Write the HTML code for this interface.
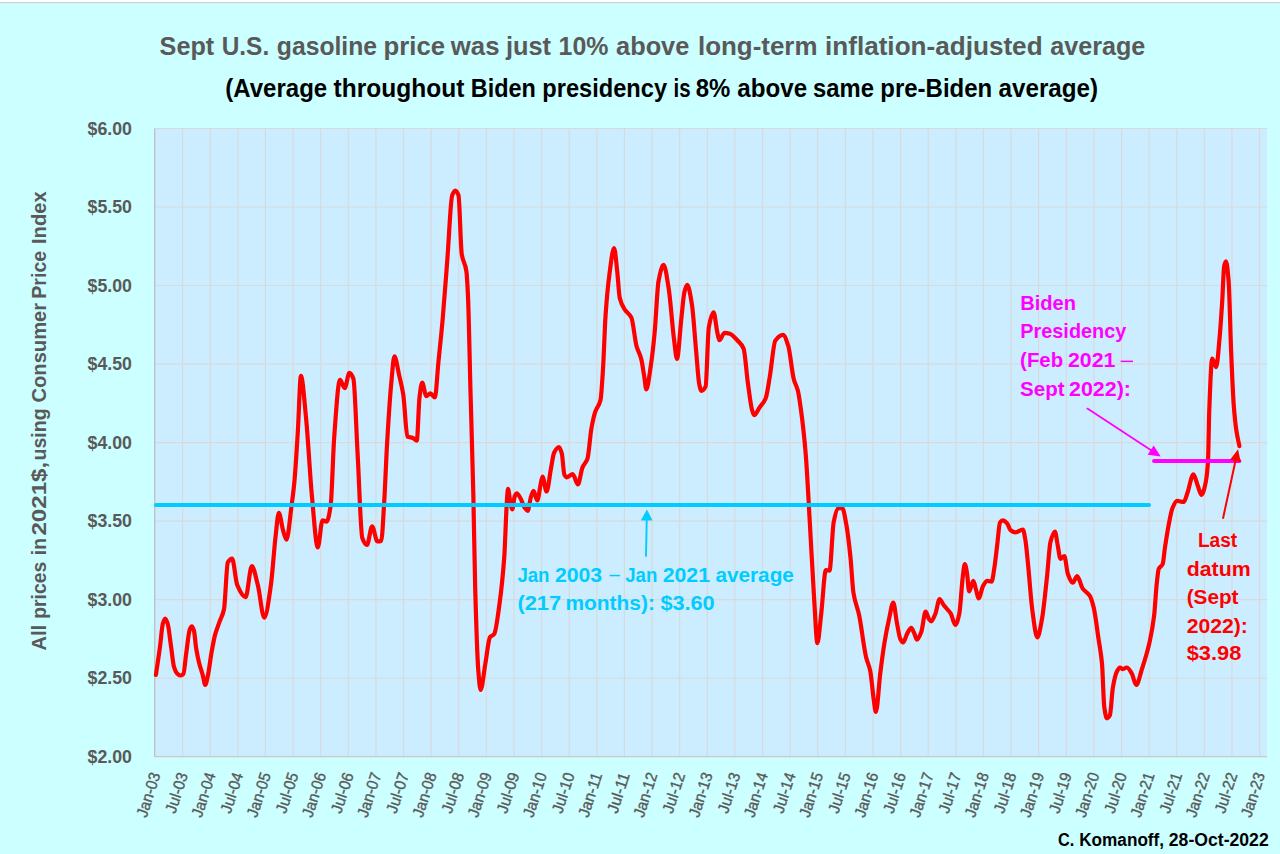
<!DOCTYPE html><html><head><meta charset="utf-8"><style>
html,body{margin:0;padding:0;width:1280px;height:854px;overflow:hidden;background:#CCFFFF;}
svg{display:block;}
text{font-family:"Liberation Sans", sans-serif;font-weight:bold;}
</style></head><body>
<svg width="1280" height="854" viewBox="0 0 1280 854">
<rect x="0" y="0" width="1280" height="854" fill="#CCFFFF"/>
<rect x="0" y="0" width="1280" height="2" fill="#FFFFFF"/>
<rect x="0" y="2" width="1280" height="1.2" fill="#CFD3D3"/>
<rect x="154.50" y="128.50" width="1112.50" height="628.20" fill="#CCECFF"/>
<path d="M182.62,128.50V756.70M210.23,128.50V756.70M237.84,128.50V756.70M265.46,128.50V756.70M293.07,128.50V756.70M320.69,128.50V756.70M348.30,128.50V756.70M375.92,128.50V756.70M403.53,128.50V756.70M431.15,128.50V756.70M458.76,128.50V756.70M486.38,128.50V756.70M514.00,128.50V756.70M541.61,128.50V756.70M569.22,128.50V756.70M596.84,128.50V756.70M624.45,128.50V756.70M652.07,128.50V756.70M679.68,128.50V756.70M707.30,128.50V756.70M734.91,128.50V756.70M762.53,128.50V756.70M790.14,128.50V756.70M817.76,128.50V756.70M845.38,128.50V756.70M872.99,128.50V756.70M900.60,128.50V756.70M928.22,128.50V756.70M955.83,128.50V756.70M983.45,128.50V756.70M1011.06,128.50V756.70M1038.68,128.50V756.70M1066.30,128.50V756.70M1093.91,128.50V756.70M1121.53,128.50V756.70M1149.14,128.50V756.70M1176.76,128.50V756.70M1204.37,128.50V756.70M1231.98,128.50V756.70M1259.60,128.50V756.70M154.50,128.50H1267.00M154.50,207.03H1267.00M154.50,285.55H1267.00M154.50,364.08H1267.00M154.50,442.60H1267.00M154.50,521.12H1267.00M154.50,599.65H1267.00M154.50,678.18H1267.00" stroke="#D9D9D9" stroke-width="1.1" fill="none"/>
<path d="M154.70,128.50V756.70" stroke="#BFBFBF" stroke-width="1.3" fill="none"/>
<path d="M154.50,756.70H1267.00" stroke="#C8C8C8" stroke-width="1.3" fill="none"/>
<path d="M155.90,675.00 C157.27,665.60 158.63,657.00 160.00,646.80 C160.97,639.59 161.93,626.48 162.90,623.40 C163.67,620.96 164.43,618.70 165.20,618.70 C166.00,618.70 166.80,621.06 167.60,623.40 C168.77,626.82 169.93,638.88 171.10,646.80 C172.07,653.37 173.03,663.75 174.00,666.80 C175.17,670.48 176.33,672.83 177.50,673.80 C178.57,674.69 179.63,675.50 180.70,675.50 C181.60,675.50 182.50,674.83 183.40,673.80 C184.37,672.69 185.33,659.44 186.30,652.70 C187.47,644.56 188.63,631.83 189.80,629.30 C190.50,627.78 191.20,626.40 191.90,626.40 C192.57,626.40 193.23,628.37 193.90,630.50 C194.70,633.05 195.50,644.40 196.30,649.20 C197.27,655.01 198.23,659.34 199.20,663.20 C200.37,667.86 201.53,670.82 202.70,675.00 C203.57,678.11 204.43,684.90 205.30,684.90 C206.20,684.90 207.10,679.14 208.00,675.00 C209.17,669.63 210.33,659.26 211.50,652.70 C212.67,646.14 213.83,639.48 215.00,635.10 C216.43,629.72 217.87,626.51 219.30,622.40 C220.87,617.90 222.43,616.59 224.00,609.30 C225.27,603.41 226.53,564.47 227.80,562.40 C229.23,560.05 230.67,558.70 232.10,558.70 C233.80,558.70 235.50,580.87 237.20,584.90 C240.00,591.54 242.80,597.10 245.60,597.10 C247.67,597.10 249.73,566.20 251.80,566.20 C253.80,566.20 255.80,577.22 257.80,584.90 C259.97,593.22 262.13,617.70 264.30,617.70 C266.50,617.70 268.70,599.98 270.90,584.90 C272.47,574.16 274.03,549.49 275.60,536.20 C276.67,527.15 277.73,512.80 278.80,512.80 C280.23,512.80 281.67,526.01 283.10,530.60 C284.23,534.23 285.37,539.60 286.50,539.60 C288.17,539.60 289.83,518.74 291.50,506.20 C292.47,498.93 293.43,492.06 294.40,481.80 C295.57,469.42 296.73,449.30 297.90,430.30 C298.90,414.01 299.90,375.90 300.90,375.90 C302.63,375.90 304.37,400.99 306.10,418.50 C308.03,438.03 309.97,475.37 311.90,495.80 C313.87,516.58 315.83,547.40 317.80,547.40 C319.37,547.40 320.93,520.40 322.50,520.40 C323.90,520.40 325.30,521.60 326.70,521.60 C328.03,521.60 329.37,514.36 330.70,505.20 C331.87,497.19 333.03,453.01 334.20,437.30 C336.13,411.26 338.07,379.90 340.00,379.90 C341.57,379.90 343.13,388.10 344.70,388.10 C346.27,388.10 347.83,372.90 349.40,372.90 C350.73,372.90 352.07,375.15 353.40,378.70 C354.80,382.43 356.20,428.65 357.60,453.70 C359.17,481.74 360.73,533.69 362.30,538.00 C363.87,542.31 365.43,545.00 367.00,545.00 C368.70,545.00 370.40,526.30 372.10,526.30 C373.90,526.30 375.70,541.50 377.50,541.50 C378.73,541.50 379.97,541.34 381.20,541.00 C382.20,540.72 383.20,517.85 384.20,502.00 C385.17,486.68 386.13,459.77 387.10,443.30 C388.47,420.02 389.83,398.62 391.20,384.00 C392.27,372.59 393.33,356.40 394.40,356.40 C396.03,356.40 397.67,368.84 399.30,375.90 C400.63,381.66 401.97,386.13 403.30,394.70 C404.67,403.49 406.03,435.93 407.40,436.60 C409.20,437.49 411.00,437.25 412.80,437.90 C414.13,438.38 415.47,440.60 416.80,440.60 C417.70,440.60 418.60,404.75 419.50,397.40 C420.40,390.05 421.30,382.60 422.20,382.60 C423.57,382.60 424.93,396.10 426.30,396.10 C427.63,396.10 428.97,393.40 430.30,393.40 C431.83,393.40 433.37,397.40 434.90,397.40 C436.07,397.40 437.23,374.13 438.40,362.40 C439.83,347.99 441.27,335.07 442.70,318.90 C444.27,301.22 445.83,279.07 447.40,258.70 C449.00,237.89 450.60,199.42 452.20,195.30 C453.23,192.64 454.27,190.60 455.30,190.60 C456.37,190.60 457.43,192.40 458.50,195.30 C459.57,198.20 460.63,247.01 461.70,253.90 C463.27,264.02 464.83,260.89 466.40,271.40 C466.93,274.98 467.47,285.14 468.00,296.70 C468.83,314.77 469.67,360.77 470.50,391.70 C471.43,426.35 472.37,453.59 473.30,493.20 C473.93,520.08 474.57,565.61 475.20,588.10 C476.23,624.80 477.27,657.30 478.30,670.30 C479.07,679.94 479.83,689.90 480.60,689.90 C482.17,689.90 483.73,672.80 485.30,664.00 C486.87,655.20 488.43,639.12 490.00,637.10 C491.40,635.30 492.80,635.78 494.20,634.00 C495.97,631.76 497.73,616.70 499.50,603.90 C501.10,592.31 502.70,579.04 504.30,556.50 C505.13,544.76 505.97,514.76 506.80,502.70 C507.20,496.91 507.60,488.90 508.00,488.90 C508.77,488.90 509.53,498.92 510.30,502.40 C510.93,505.27 511.57,509.50 512.20,509.50 C513.07,509.50 513.93,497.82 514.80,496.00 C515.43,494.67 516.07,493.40 516.70,493.40 C518.00,493.40 519.30,496.33 520.60,498.50 C521.90,500.67 523.20,505.67 524.50,507.50 C525.57,509.00 526.63,510.80 527.70,510.80 C528.77,510.80 529.83,500.50 530.90,497.20 C531.77,494.52 532.63,490.80 533.50,490.80 C534.77,490.80 536.03,500.50 537.30,500.50 C538.40,500.50 539.50,489.27 540.60,484.40 C541.23,481.60 541.87,476.60 542.50,476.60 C543.87,476.60 545.23,491.50 546.60,491.50 C548.03,491.50 549.47,476.26 550.90,468.90 C551.97,463.42 553.03,454.94 554.10,452.80 C555.73,449.53 557.37,447.00 559.00,447.00 C559.93,447.00 560.87,450.10 561.80,453.50 C562.67,456.65 563.53,473.11 564.40,474.70 C565.23,476.23 566.07,477.30 566.90,477.30 C568.83,477.30 570.77,474.10 572.70,474.10 C574.43,474.10 576.17,484.40 577.90,484.40 C579.40,484.40 580.90,471.22 582.40,467.60 C584.10,463.50 585.80,463.62 587.50,458.60 C588.80,454.76 590.10,435.69 591.40,428.50 C592.70,421.31 594.00,415.58 595.30,411.70 C597.03,406.53 598.77,407.23 600.50,400.10 C601.33,396.67 602.17,382.11 603.00,369.20 C603.87,355.77 604.73,327.42 605.60,315.00 C606.90,296.36 608.20,283.41 609.50,273.80 C611.03,262.47 612.57,248.00 614.10,248.00 C615.13,248.00 616.17,262.15 617.20,271.20 C618.07,278.79 618.93,294.87 619.80,298.30 C621.53,305.16 623.27,307.16 625.00,309.90 C627.13,313.27 629.27,313.27 631.40,317.60 C633.10,321.05 634.80,339.78 636.50,346.00 C638.07,351.73 639.63,352.91 641.20,358.90 C642.23,362.85 643.27,370.69 644.30,376.90 C644.97,380.91 645.63,389.30 646.30,389.30 C647.77,389.30 649.23,376.10 650.70,366.60 C652.00,358.18 653.30,346.64 654.60,333.10 C655.90,319.56 657.20,288.51 658.50,281.50 C660.20,272.33 661.90,264.80 663.60,264.80 C665.33,264.80 667.07,278.34 668.80,289.30 C670.50,300.05 672.20,325.01 673.90,338.20 C674.93,346.22 675.97,358.90 677.00,358.90 C678.43,358.90 679.87,331.85 681.30,319.10 C682.37,309.61 683.43,295.64 684.50,291.60 C685.40,288.19 686.30,284.90 687.20,284.90 C688.77,284.90 690.33,294.80 691.90,304.30 C693.30,312.79 694.70,335.60 696.10,350.70 C697.17,362.21 698.23,379.70 699.30,384.50 C700.00,387.65 700.70,390.80 701.40,390.80 C702.80,390.80 704.20,389.37 705.60,386.60 C706.67,384.49 707.73,333.55 708.80,327.50 C710.40,318.42 712.00,312.30 713.60,312.30 C714.80,312.30 716.00,326.22 717.20,331.70 C717.90,334.90 718.60,340.20 719.30,340.20 C721.07,340.20 722.83,332.80 724.60,332.80 C726.37,332.80 728.13,333.27 729.90,333.80 C732.33,334.53 734.77,337.63 737.20,340.20 C739.33,342.45 741.47,343.53 743.60,348.60 C745.00,351.93 746.40,372.31 747.80,382.40 C749.20,392.49 750.60,404.94 752.00,409.80 C752.70,412.23 753.40,415.10 754.10,415.10 C755.87,415.10 757.63,410.26 759.40,407.70 C761.50,404.66 763.60,403.32 765.70,398.20 C767.10,394.79 768.50,384.16 769.90,376.00 C771.70,365.51 773.50,343.11 775.30,340.60 C777.87,337.02 780.43,334.90 783.00,334.90 C784.73,334.90 786.47,340.39 788.20,345.70 C790.07,351.42 791.93,372.16 793.80,379.20 C795.17,384.36 796.53,385.39 797.90,390.80 C798.93,394.89 799.97,402.50 801.00,410.10 C802.57,421.63 804.13,434.97 805.70,453.80 C807.07,470.23 808.43,498.76 809.80,522.20 C811.23,546.78 812.67,576.17 814.10,598.10 C815.20,614.93 816.30,643.10 817.40,643.10 C818.63,643.10 819.87,625.30 821.10,615.00 C822.70,601.63 824.30,570.00 825.90,570.00 C827.10,570.00 828.30,570.60 829.50,570.60 C830.90,570.60 832.30,529.20 833.70,522.20 C835.13,515.03 836.57,508.83 838.00,508.50 C839.40,508.18 840.80,508.00 842.20,508.00 C843.60,508.00 845.00,517.47 846.40,525.00 C847.80,532.53 849.20,545.02 850.60,558.70 C851.53,567.82 852.47,586.61 853.40,592.50 C855.30,604.50 857.20,606.00 859.10,615.00 C861.43,626.05 863.77,647.42 866.10,657.20 C867.50,663.07 868.90,664.45 870.30,671.20 C871.43,676.67 872.57,691.69 873.70,699.30 C874.43,704.22 875.17,712.00 875.90,712.00 C877.37,712.00 878.83,684.66 880.30,673.00 C881.73,661.61 883.17,650.63 884.60,642.00 C886.07,633.17 887.53,625.82 889.00,619.30 C890.43,612.93 891.87,602.50 893.30,602.50 C894.47,602.50 895.63,616.05 896.80,622.10 C897.97,628.15 899.13,636.73 900.30,639.00 C901.23,640.81 902.17,642.50 903.10,642.50 C904.50,642.50 905.90,635.81 907.30,633.40 C908.60,631.16 909.90,627.80 911.20,627.80 C912.23,627.80 913.27,631.25 914.30,633.40 C915.17,635.20 916.03,639.70 916.90,639.70 C918.37,639.70 919.83,635.76 921.30,632.00 C922.73,628.33 924.17,611.60 925.60,611.60 C926.77,611.60 927.93,617.74 929.10,619.30 C929.80,620.23 930.50,621.40 931.20,621.40 C932.60,621.40 934.00,617.07 935.40,613.70 C936.80,610.33 938.20,599.00 939.60,599.00 C941.00,599.00 942.40,603.42 943.80,605.30 C946.13,608.44 948.47,609.82 950.80,613.70 C952.30,616.19 953.80,624.90 955.30,624.90 C956.63,624.90 957.97,619.71 959.30,613.70 C960.43,608.59 961.57,586.28 962.70,577.40 C963.40,571.92 964.10,564.00 964.80,564.00 C965.53,564.00 966.27,568.97 967.00,573.10 C967.70,577.04 968.40,591.40 969.10,591.40 C970.50,591.40 971.90,580.90 973.30,580.90 C974.23,580.90 975.17,586.90 976.10,590.00 C976.93,592.77 977.77,598.50 978.60,598.50 C980.10,598.50 981.60,588.26 983.10,585.80 C984.50,583.50 985.90,580.90 987.30,580.90 C988.73,580.90 990.17,581.60 991.60,581.60 C992.53,581.60 993.47,573.28 994.40,567.50 C995.33,561.72 996.27,552.50 997.20,545.00 C998.13,537.50 999.07,523.78 1000.00,522.50 C1000.93,521.22 1001.87,520.40 1002.80,520.40 C1004.20,520.40 1005.60,521.79 1007.00,523.20 C1008.20,524.41 1009.40,529.33 1010.60,530.20 C1012.23,531.39 1013.87,532.30 1015.50,532.30 C1017.93,532.30 1020.37,529.50 1022.80,529.50 C1023.63,529.50 1024.47,534.83 1025.30,539.40 C1026.23,544.52 1027.17,555.83 1028.10,565.00 C1029.47,578.43 1030.83,598.86 1032.20,609.00 C1033.90,621.61 1035.60,637.40 1037.30,637.40 C1038.83,637.40 1040.37,627.60 1041.90,619.50 C1043.57,610.69 1045.23,592.93 1046.90,577.70 C1048.10,566.73 1049.30,546.45 1050.50,541.80 C1051.97,536.12 1053.43,531.50 1054.90,531.50 C1055.87,531.50 1056.83,541.00 1057.80,545.80 C1058.67,550.10 1059.53,558.80 1060.40,558.80 C1061.73,558.80 1063.07,556.20 1064.40,556.20 C1065.53,556.20 1066.67,570.61 1067.80,573.70 C1069.47,578.25 1071.13,582.60 1072.80,582.60 C1074.23,582.60 1075.67,576.10 1077.10,576.10 C1078.97,576.10 1080.83,585.98 1082.70,588.60 C1085.03,591.87 1087.37,591.94 1089.70,595.60 C1091.03,597.69 1092.37,602.12 1093.70,607.50 C1095.33,614.09 1096.97,628.29 1098.60,639.40 C1099.73,647.11 1100.87,651.43 1102.00,663.50 C1102.77,671.67 1103.53,702.06 1104.30,707.40 C1105.17,713.44 1106.03,718.30 1106.90,718.30 C1107.90,718.30 1108.90,717.11 1109.90,715.30 C1110.90,713.49 1111.90,693.08 1112.90,687.40 C1114.23,679.83 1115.57,674.10 1116.90,671.50 C1117.90,669.55 1118.90,667.50 1119.90,667.50 C1120.90,667.50 1121.90,669.10 1122.90,669.10 C1124.20,669.10 1125.50,667.50 1126.80,667.50 C1128.47,667.50 1130.13,670.74 1131.80,673.50 C1133.27,675.93 1134.73,685.00 1136.20,685.00 C1138.07,685.00 1139.93,675.25 1141.80,669.50 C1144.43,661.38 1147.07,653.49 1149.70,641.60 C1151.17,634.98 1152.63,627.80 1154.10,615.80 C1154.97,608.71 1155.83,591.85 1156.70,583.90 C1157.37,577.78 1158.03,570.55 1158.70,569.00 C1160.03,565.90 1161.37,567.04 1162.70,564.00 C1163.47,562.25 1164.23,552.41 1165.00,547.30 C1166.23,539.08 1167.47,531.12 1168.70,524.80 C1169.97,518.31 1171.23,510.94 1172.50,508.00 C1174.03,504.44 1175.57,500.90 1177.10,500.90 C1179.30,500.90 1181.50,502.00 1183.70,502.00 C1184.93,502.00 1186.17,496.34 1187.40,493.00 C1189.40,487.59 1191.40,474.30 1193.40,474.30 C1194.83,474.30 1196.27,481.86 1197.70,485.50 C1198.97,488.71 1200.23,494.90 1201.50,494.90 C1202.93,494.90 1204.37,488.77 1205.80,481.80 C1206.53,478.23 1207.27,472.94 1208.00,461.20 C1208.43,454.26 1208.87,420.61 1209.30,409.50 C1210.27,384.71 1211.23,358.50 1212.20,358.50 C1212.70,358.50 1213.20,360.19 1213.70,361.20 C1214.53,362.88 1215.37,367.10 1216.20,367.10 C1217.33,367.10 1218.47,349.74 1219.60,337.50 C1220.47,328.14 1221.33,315.06 1222.20,301.50 C1222.87,291.07 1223.53,269.00 1224.20,266.00 C1224.80,263.30 1225.40,261.30 1226.00,261.30 C1226.87,261.30 1227.73,270.63 1228.60,280.90 C1229.47,291.17 1230.33,332.44 1231.20,352.90 C1232.03,372.57 1232.87,393.24 1233.70,404.40 C1234.57,416.00 1235.43,424.17 1236.30,430.10 C1237.33,437.17 1238.37,440.77 1239.40,446.10" stroke="#FF0000" stroke-width="4.2" stroke-linejoin="round" stroke-linecap="round" fill="none"/>
<path d="M156,505H1149" stroke="#00CCFF" stroke-width="4" stroke-linecap="round" fill="none"/>
<path d="M1154,461H1239.5" stroke="#FF00FF" stroke-width="3.9" stroke-linecap="round" fill="none"/>
<path d="M646.00,555.90L646.70,520.00" stroke="#00CCFF" stroke-width="1.90" stroke-linecap="round" fill="none"/><path d="M646.90,509.50L652.59,520.61L640.79,520.38Z" fill="#00CCFF"/>
<path d="M1087.40,408.60L1151.08,450.30" stroke="#FF00FF" stroke-width="1.80" stroke-linecap="round" fill="none"/><path d="M1160.70,456.60L1147.65,454.63L1153.67,445.42Z" fill="#FF00FF"/>
<path d="M1223.10,518.00L1235.56,460.54" stroke="#FF0000" stroke-width="2.00" stroke-linecap="round" fill="none"/><path d="M1238.00,449.30L1240.83,462.19L1230.08,459.86Z" fill="#FF0000"/>
<text x="159.60" y="54.50" font-size="25.50" fill="#595959" text-anchor="start" textLength="54.6" lengthAdjust="spacingAndGlyphs">Sept</text>
<text x="221.70" y="54.50" font-size="25.50" fill="#595959" text-anchor="start" textLength="47.5" lengthAdjust="spacingAndGlyphs">U.S.</text>
<text x="276.80" y="54.50" font-size="25.50" fill="#595959" text-anchor="start" textLength="100.3" lengthAdjust="spacingAndGlyphs">gasoline</text>
<text x="383.50" y="54.50" font-size="25.50" fill="#595959" text-anchor="start" textLength="61.5" lengthAdjust="spacingAndGlyphs">price</text>
<text x="450.80" y="54.50" font-size="25.50" fill="#595959" text-anchor="start" textLength="48.7" lengthAdjust="spacingAndGlyphs">was</text>
<text x="505.90" y="54.50" font-size="25.50" fill="#595959" text-anchor="start" textLength="45.1" lengthAdjust="spacingAndGlyphs">just</text>
<text x="558.60" y="54.50" font-size="25.50" fill="#595959" text-anchor="start" textLength="49.9" lengthAdjust="spacingAndGlyphs">10%</text>
<text x="616.10" y="54.50" font-size="25.50" fill="#595959" text-anchor="start" textLength="73.2" lengthAdjust="spacingAndGlyphs">above</text>
<text x="698.00" y="54.50" font-size="25.50" fill="#595959" text-anchor="start" textLength="119.5" lengthAdjust="spacingAndGlyphs">long-term</text>
<text x="825.00" y="54.50" font-size="25.50" fill="#595959" text-anchor="start" textLength="217.6" lengthAdjust="spacingAndGlyphs">inflation-adjusted</text>
<text x="1050.20" y="54.50" font-size="25.50" fill="#595959" text-anchor="start" textLength="95.1" lengthAdjust="spacingAndGlyphs">average</text>
<text x="225.30" y="97.30" font-size="25.00" fill="#000000" text-anchor="start" textLength="101.9" lengthAdjust="spacingAndGlyphs">(Average</text>
<text x="333.60" y="97.30" font-size="25.00" fill="#000000" text-anchor="start" textLength="130.7" lengthAdjust="spacingAndGlyphs">throughout</text>
<text x="470.80" y="97.30" font-size="25.00" fill="#000000" text-anchor="start" textLength="65.1" lengthAdjust="spacingAndGlyphs">Biden</text>
<text x="542.30" y="97.30" font-size="25.00" fill="#000000" text-anchor="start" textLength="124.8" lengthAdjust="spacingAndGlyphs">presidency</text>
<text x="673.50" y="97.30" font-size="25.00" fill="#000000" text-anchor="start" textLength="17.1" lengthAdjust="spacingAndGlyphs">is</text>
<text x="695.80" y="97.30" font-size="25.00" fill="#000000" text-anchor="start" textLength="34.6" lengthAdjust="spacingAndGlyphs">8%</text>
<text x="737.30" y="97.30" font-size="25.00" fill="#000000" text-anchor="start" textLength="69.8" lengthAdjust="spacingAndGlyphs">above</text>
<text x="813.00" y="97.30" font-size="25.00" fill="#000000" text-anchor="start" textLength="60.9" lengthAdjust="spacingAndGlyphs">same</text>
<text x="880.30" y="97.30" font-size="25.00" fill="#000000" text-anchor="start" textLength="111.9" lengthAdjust="spacingAndGlyphs">pre-Biden</text>
<text x="998.60" y="97.30" font-size="25.00" fill="#000000" text-anchor="start" textLength="99.5" lengthAdjust="spacingAndGlyphs">average)</text>
<text x="87.60" y="134.60" font-size="17.50" fill="#595959" text-anchor="start" textLength="44.4" lengthAdjust="spacingAndGlyphs">$6.00</text>
<text x="87.60" y="213.12" font-size="17.50" fill="#595959" text-anchor="start" textLength="44.4" lengthAdjust="spacingAndGlyphs">$5.50</text>
<text x="87.60" y="291.65" font-size="17.50" fill="#595959" text-anchor="start" textLength="44.4" lengthAdjust="spacingAndGlyphs">$5.00</text>
<text x="87.60" y="370.18" font-size="17.50" fill="#595959" text-anchor="start" textLength="44.4" lengthAdjust="spacingAndGlyphs">$4.50</text>
<text x="87.60" y="448.70" font-size="17.50" fill="#595959" text-anchor="start" textLength="44.4" lengthAdjust="spacingAndGlyphs">$4.00</text>
<text x="87.60" y="527.23" font-size="17.50" fill="#595959" text-anchor="start" textLength="44.4" lengthAdjust="spacingAndGlyphs">$3.50</text>
<text x="87.60" y="605.75" font-size="17.50" fill="#595959" text-anchor="start" textLength="44.4" lengthAdjust="spacingAndGlyphs">$3.00</text>
<text x="87.60" y="684.28" font-size="17.50" fill="#595959" text-anchor="start" textLength="44.4" lengthAdjust="spacingAndGlyphs">$2.50</text>
<text x="87.60" y="762.80" font-size="17.50" fill="#595959" text-anchor="start" textLength="44.4" lengthAdjust="spacingAndGlyphs">$2.00</text>
<text transform="translate(46.3,650.40) rotate(-90)" x="0" y="0" font-size="21" fill="#595959" textLength="25.50" lengthAdjust="spacingAndGlyphs">All</text>
<text transform="translate(46.3,618.80) rotate(-90)" x="0" y="0" font-size="21" fill="#595959" textLength="57.10" lengthAdjust="spacingAndGlyphs">prices</text>
<text transform="translate(46.3,555.20) rotate(-90)" x="0" y="0" font-size="21" fill="#595959" textLength="17.10" lengthAdjust="spacingAndGlyphs">in</text>
<text transform="translate(46.3,535.60) rotate(-90)" x="0" y="0" font-size="21" fill="#595959" textLength="73.80" lengthAdjust="spacingAndGlyphs">2021$,</text>
<text transform="translate(46.3,460.50) rotate(-90)" x="0" y="0" font-size="21" fill="#595959" textLength="52.20" lengthAdjust="spacingAndGlyphs">using</text>
<text transform="translate(46.3,402.50) rotate(-90)" x="0" y="0" font-size="21" fill="#595959" textLength="99.60" lengthAdjust="spacingAndGlyphs">Consumer</text>
<text transform="translate(46.3,298.80) rotate(-90)" x="0" y="0" font-size="21" fill="#595959" textLength="48.10" lengthAdjust="spacingAndGlyphs">Price</text>
<text transform="translate(46.3,244.00) rotate(-90)" x="0" y="0" font-size="21" fill="#595959" textLength="52.60" lengthAdjust="spacingAndGlyphs">Index</text>
<text transform="translate(160.60,774.60) rotate(-72.0)" x="0" y="0" font-size="16" style="font-weight:normal" fill="#595959" stroke="#595959" stroke-width="0.35" text-anchor="end" textLength="46.0" lengthAdjust="spacingAndGlyphs">Jan-03</text>
<text transform="translate(188.22,774.60) rotate(-72.0)" x="0" y="0" font-size="16" style="font-weight:normal" fill="#595959" stroke="#595959" stroke-width="0.35" text-anchor="end" textLength="41.6" lengthAdjust="spacingAndGlyphs">Jul-03</text>
<text transform="translate(215.83,774.60) rotate(-72.0)" x="0" y="0" font-size="16" style="font-weight:normal" fill="#595959" stroke="#595959" stroke-width="0.35" text-anchor="end" textLength="46.0" lengthAdjust="spacingAndGlyphs">Jan-04</text>
<text transform="translate(243.44,774.60) rotate(-72.0)" x="0" y="0" font-size="16" style="font-weight:normal" fill="#595959" stroke="#595959" stroke-width="0.35" text-anchor="end" textLength="41.6" lengthAdjust="spacingAndGlyphs">Jul-04</text>
<text transform="translate(271.06,774.60) rotate(-72.0)" x="0" y="0" font-size="16" style="font-weight:normal" fill="#595959" stroke="#595959" stroke-width="0.35" text-anchor="end" textLength="46.0" lengthAdjust="spacingAndGlyphs">Jan-05</text>
<text transform="translate(298.68,774.60) rotate(-72.0)" x="0" y="0" font-size="16" style="font-weight:normal" fill="#595959" stroke="#595959" stroke-width="0.35" text-anchor="end" textLength="41.6" lengthAdjust="spacingAndGlyphs">Jul-05</text>
<text transform="translate(326.29,774.60) rotate(-72.0)" x="0" y="0" font-size="16" style="font-weight:normal" fill="#595959" stroke="#595959" stroke-width="0.35" text-anchor="end" textLength="46.0" lengthAdjust="spacingAndGlyphs">Jan-06</text>
<text transform="translate(353.90,774.60) rotate(-72.0)" x="0" y="0" font-size="16" style="font-weight:normal" fill="#595959" stroke="#595959" stroke-width="0.35" text-anchor="end" textLength="41.6" lengthAdjust="spacingAndGlyphs">Jul-06</text>
<text transform="translate(381.52,774.60) rotate(-72.0)" x="0" y="0" font-size="16" style="font-weight:normal" fill="#595959" stroke="#595959" stroke-width="0.35" text-anchor="end" textLength="46.0" lengthAdjust="spacingAndGlyphs">Jan-07</text>
<text transform="translate(409.13,774.60) rotate(-72.0)" x="0" y="0" font-size="16" style="font-weight:normal" fill="#595959" stroke="#595959" stroke-width="0.35" text-anchor="end" textLength="41.6" lengthAdjust="spacingAndGlyphs">Jul-07</text>
<text transform="translate(436.75,774.60) rotate(-72.0)" x="0" y="0" font-size="16" style="font-weight:normal" fill="#595959" stroke="#595959" stroke-width="0.35" text-anchor="end" textLength="46.0" lengthAdjust="spacingAndGlyphs">Jan-08</text>
<text transform="translate(464.37,774.60) rotate(-72.0)" x="0" y="0" font-size="16" style="font-weight:normal" fill="#595959" stroke="#595959" stroke-width="0.35" text-anchor="end" textLength="41.6" lengthAdjust="spacingAndGlyphs">Jul-08</text>
<text transform="translate(491.98,774.60) rotate(-72.0)" x="0" y="0" font-size="16" style="font-weight:normal" fill="#595959" stroke="#595959" stroke-width="0.35" text-anchor="end" textLength="46.0" lengthAdjust="spacingAndGlyphs">Jan-09</text>
<text transform="translate(519.60,774.60) rotate(-72.0)" x="0" y="0" font-size="16" style="font-weight:normal" fill="#595959" stroke="#595959" stroke-width="0.35" text-anchor="end" textLength="41.6" lengthAdjust="spacingAndGlyphs">Jul-09</text>
<text transform="translate(547.21,774.60) rotate(-72.0)" x="0" y="0" font-size="16" style="font-weight:normal" fill="#595959" stroke="#595959" stroke-width="0.35" text-anchor="end" textLength="46.0" lengthAdjust="spacingAndGlyphs">Jan-10</text>
<text transform="translate(574.82,774.60) rotate(-72.0)" x="0" y="0" font-size="16" style="font-weight:normal" fill="#595959" stroke="#595959" stroke-width="0.35" text-anchor="end" textLength="41.6" lengthAdjust="spacingAndGlyphs">Jul-10</text>
<text transform="translate(602.44,774.60) rotate(-72.0)" x="0" y="0" font-size="16" style="font-weight:normal" fill="#595959" stroke="#595959" stroke-width="0.35" text-anchor="end" textLength="46.0" lengthAdjust="spacingAndGlyphs">Jan-11</text>
<text transform="translate(630.05,774.60) rotate(-72.0)" x="0" y="0" font-size="16" style="font-weight:normal" fill="#595959" stroke="#595959" stroke-width="0.35" text-anchor="end" textLength="41.6" lengthAdjust="spacingAndGlyphs">Jul-11</text>
<text transform="translate(657.67,774.60) rotate(-72.0)" x="0" y="0" font-size="16" style="font-weight:normal" fill="#595959" stroke="#595959" stroke-width="0.35" text-anchor="end" textLength="46.0" lengthAdjust="spacingAndGlyphs">Jan-12</text>
<text transform="translate(685.28,774.60) rotate(-72.0)" x="0" y="0" font-size="16" style="font-weight:normal" fill="#595959" stroke="#595959" stroke-width="0.35" text-anchor="end" textLength="41.6" lengthAdjust="spacingAndGlyphs">Jul-12</text>
<text transform="translate(712.90,774.60) rotate(-72.0)" x="0" y="0" font-size="16" style="font-weight:normal" fill="#595959" stroke="#595959" stroke-width="0.35" text-anchor="end" textLength="46.0" lengthAdjust="spacingAndGlyphs">Jan-13</text>
<text transform="translate(740.51,774.60) rotate(-72.0)" x="0" y="0" font-size="16" style="font-weight:normal" fill="#595959" stroke="#595959" stroke-width="0.35" text-anchor="end" textLength="41.6" lengthAdjust="spacingAndGlyphs">Jul-13</text>
<text transform="translate(768.13,774.60) rotate(-72.0)" x="0" y="0" font-size="16" style="font-weight:normal" fill="#595959" stroke="#595959" stroke-width="0.35" text-anchor="end" textLength="46.0" lengthAdjust="spacingAndGlyphs">Jan-14</text>
<text transform="translate(795.75,774.60) rotate(-72.0)" x="0" y="0" font-size="16" style="font-weight:normal" fill="#595959" stroke="#595959" stroke-width="0.35" text-anchor="end" textLength="41.6" lengthAdjust="spacingAndGlyphs">Jul-14</text>
<text transform="translate(823.36,774.60) rotate(-72.0)" x="0" y="0" font-size="16" style="font-weight:normal" fill="#595959" stroke="#595959" stroke-width="0.35" text-anchor="end" textLength="46.0" lengthAdjust="spacingAndGlyphs">Jan-15</text>
<text transform="translate(850.98,774.60) rotate(-72.0)" x="0" y="0" font-size="16" style="font-weight:normal" fill="#595959" stroke="#595959" stroke-width="0.35" text-anchor="end" textLength="41.6" lengthAdjust="spacingAndGlyphs">Jul-15</text>
<text transform="translate(878.59,774.60) rotate(-72.0)" x="0" y="0" font-size="16" style="font-weight:normal" fill="#595959" stroke="#595959" stroke-width="0.35" text-anchor="end" textLength="46.0" lengthAdjust="spacingAndGlyphs">Jan-16</text>
<text transform="translate(906.20,774.60) rotate(-72.0)" x="0" y="0" font-size="16" style="font-weight:normal" fill="#595959" stroke="#595959" stroke-width="0.35" text-anchor="end" textLength="41.6" lengthAdjust="spacingAndGlyphs">Jul-16</text>
<text transform="translate(933.82,774.60) rotate(-72.0)" x="0" y="0" font-size="16" style="font-weight:normal" fill="#595959" stroke="#595959" stroke-width="0.35" text-anchor="end" textLength="46.0" lengthAdjust="spacingAndGlyphs">Jan-17</text>
<text transform="translate(961.43,774.60) rotate(-72.0)" x="0" y="0" font-size="16" style="font-weight:normal" fill="#595959" stroke="#595959" stroke-width="0.35" text-anchor="end" textLength="41.6" lengthAdjust="spacingAndGlyphs">Jul-17</text>
<text transform="translate(989.05,774.60) rotate(-72.0)" x="0" y="0" font-size="16" style="font-weight:normal" fill="#595959" stroke="#595959" stroke-width="0.35" text-anchor="end" textLength="46.0" lengthAdjust="spacingAndGlyphs">Jan-18</text>
<text transform="translate(1016.66,774.60) rotate(-72.0)" x="0" y="0" font-size="16" style="font-weight:normal" fill="#595959" stroke="#595959" stroke-width="0.35" text-anchor="end" textLength="41.6" lengthAdjust="spacingAndGlyphs">Jul-18</text>
<text transform="translate(1044.28,774.60) rotate(-72.0)" x="0" y="0" font-size="16" style="font-weight:normal" fill="#595959" stroke="#595959" stroke-width="0.35" text-anchor="end" textLength="46.0" lengthAdjust="spacingAndGlyphs">Jan-19</text>
<text transform="translate(1071.89,774.60) rotate(-72.0)" x="0" y="0" font-size="16" style="font-weight:normal" fill="#595959" stroke="#595959" stroke-width="0.35" text-anchor="end" textLength="41.6" lengthAdjust="spacingAndGlyphs">Jul-19</text>
<text transform="translate(1099.51,774.60) rotate(-72.0)" x="0" y="0" font-size="16" style="font-weight:normal" fill="#595959" stroke="#595959" stroke-width="0.35" text-anchor="end" textLength="46.0" lengthAdjust="spacingAndGlyphs">Jan-20</text>
<text transform="translate(1127.12,774.60) rotate(-72.0)" x="0" y="0" font-size="16" style="font-weight:normal" fill="#595959" stroke="#595959" stroke-width="0.35" text-anchor="end" textLength="41.6" lengthAdjust="spacingAndGlyphs">Jul-20</text>
<text transform="translate(1154.74,774.60) rotate(-72.0)" x="0" y="0" font-size="16" style="font-weight:normal" fill="#595959" stroke="#595959" stroke-width="0.35" text-anchor="end" textLength="46.0" lengthAdjust="spacingAndGlyphs">Jan-21</text>
<text transform="translate(1182.36,774.60) rotate(-72.0)" x="0" y="0" font-size="16" style="font-weight:normal" fill="#595959" stroke="#595959" stroke-width="0.35" text-anchor="end" textLength="41.6" lengthAdjust="spacingAndGlyphs">Jul-21</text>
<text transform="translate(1209.97,774.60) rotate(-72.0)" x="0" y="0" font-size="16" style="font-weight:normal" fill="#595959" stroke="#595959" stroke-width="0.35" text-anchor="end" textLength="46.0" lengthAdjust="spacingAndGlyphs">Jan-22</text>
<text transform="translate(1237.58,774.60) rotate(-72.0)" x="0" y="0" font-size="16" style="font-weight:normal" fill="#595959" stroke="#595959" stroke-width="0.35" text-anchor="end" textLength="41.6" lengthAdjust="spacingAndGlyphs">Jul-22</text>
<text transform="translate(1265.20,774.60) rotate(-72.0)" x="0" y="0" font-size="16" style="font-weight:normal" fill="#595959" stroke="#595959" stroke-width="0.35" text-anchor="end" textLength="46.0" lengthAdjust="spacingAndGlyphs">Jan-23</text>
<text x="517.40" y="582.00" font-size="20.50" fill="#00CCFF" text-anchor="start" textLength="32.1" lengthAdjust="spacingAndGlyphs">Jan</text>
<text x="554.90" y="582.00" font-size="20.50" fill="#00CCFF" text-anchor="start" textLength="47.3" lengthAdjust="spacingAndGlyphs">2003</text>
<text x="625.20" y="582.00" font-size="20.50" fill="#00CCFF" text-anchor="start" textLength="32.1" lengthAdjust="spacingAndGlyphs">Jan</text>
<text x="662.70" y="582.00" font-size="20.50" fill="#00CCFF" text-anchor="start" textLength="47.3" lengthAdjust="spacingAndGlyphs">2021</text>
<text x="715.40" y="582.00" font-size="20.50" fill="#00CCFF" text-anchor="start" textLength="78.5" lengthAdjust="spacingAndGlyphs">average</text>
<text x="517.40" y="610.20" font-size="20.50" fill="#00CCFF" text-anchor="start" textLength="43.8" lengthAdjust="spacingAndGlyphs">(217</text>
<text x="565.40" y="610.20" font-size="20.50" fill="#00CCFF" text-anchor="start" textLength="89.5" lengthAdjust="spacingAndGlyphs">months):</text>
<text x="660.40" y="610.20" font-size="20.50" fill="#00CCFF" text-anchor="start" textLength="54.3" lengthAdjust="spacingAndGlyphs">$3.60</text>
<rect x="609.6" y="574.8" width="10.5" height="1.5" fill="#00CCFF"/>
<text x="1020.30" y="310.30" font-size="21.00" fill="#FF00FF" text-anchor="start" textLength="55.7" lengthAdjust="spacingAndGlyphs">Biden</text>
<text x="1020.30" y="338.20" font-size="21.00" fill="#FF00FF" text-anchor="start" textLength="106.0" lengthAdjust="spacingAndGlyphs">Presidency</text>
<text x="1020.10" y="366.90" font-size="21.00" fill="#FF00FF" text-anchor="start" textLength="43.0" lengthAdjust="spacingAndGlyphs">(Feb</text>
<text x="1067.90" y="366.90" font-size="21.00" fill="#FF00FF" text-anchor="start" textLength="47.5" lengthAdjust="spacingAndGlyphs">2021</text>
<text x="1020.10" y="395.60" font-size="21.00" fill="#FF00FF" text-anchor="start" textLength="44.4" lengthAdjust="spacingAndGlyphs">Sept</text>
<text x="1069.00" y="395.60" font-size="21.00" fill="#FF00FF" text-anchor="start" textLength="62.0" lengthAdjust="spacingAndGlyphs">2022):</text>
<rect x="1120.7" y="360.6" width="12.3" height="1.5" fill="#FF00FF"/>
<text x="1197.90" y="547.20" font-size="20.00" fill="#FF0000" text-anchor="start" textLength="39.3" lengthAdjust="spacingAndGlyphs">Last</text>
<text x="1186.70" y="576.20" font-size="20.00" fill="#FF0000" text-anchor="start" textLength="64.0" lengthAdjust="spacingAndGlyphs">datum</text>
<text x="1186.70" y="604.30" font-size="20.00" fill="#FF0000" text-anchor="start" textLength="51.8" lengthAdjust="spacingAndGlyphs">(Sept</text>
<text x="1186.70" y="633.30" font-size="20.00" fill="#FF0000" text-anchor="start" textLength="61.2" lengthAdjust="spacingAndGlyphs">2022):</text>
<text x="1186.70" y="660.40" font-size="20.00" fill="#FF0000" text-anchor="start" textLength="54.7" lengthAdjust="spacingAndGlyphs">$3.98</text>
<text x="1058.10" y="845.70" font-size="17.50" fill="#000000" text-anchor="start" textLength="16.3" lengthAdjust="spacingAndGlyphs">C.</text>
<text x="1079.20" y="845.70" font-size="17.50" fill="#000000" text-anchor="start" textLength="84.9" lengthAdjust="spacingAndGlyphs">Komanoff,</text>
<text x="1168.80" y="845.70" font-size="17.50" fill="#000000" text-anchor="start" textLength="99.9" lengthAdjust="spacingAndGlyphs">28-Oct-2022</text>
</svg></body></html>
